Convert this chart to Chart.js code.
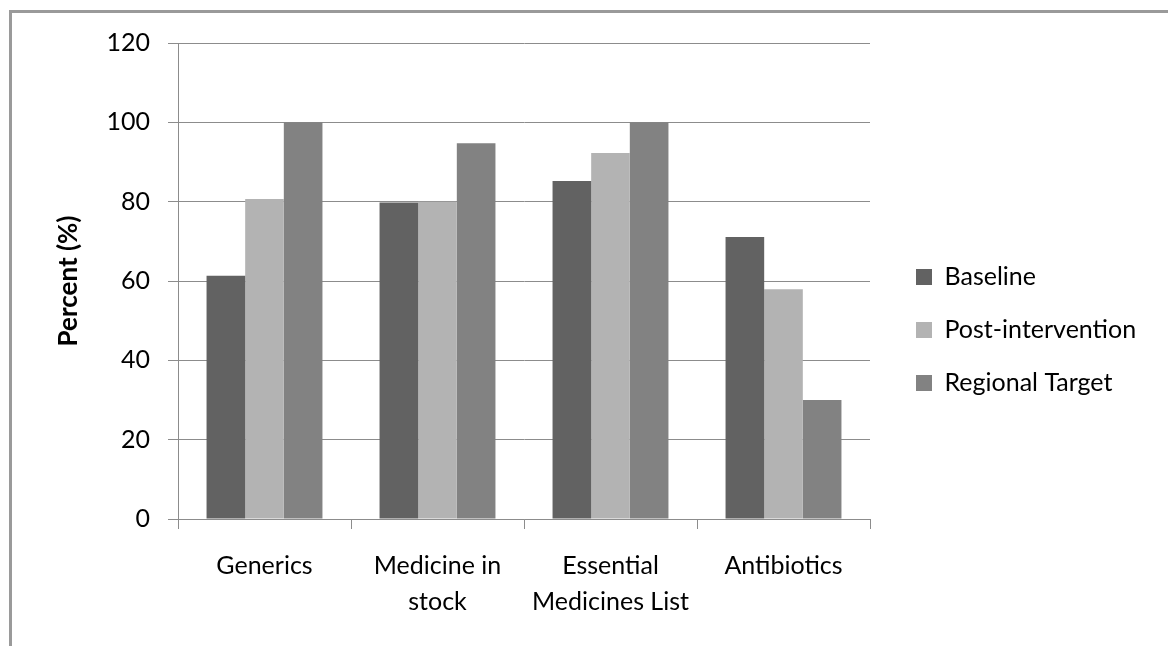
<!DOCTYPE html>
<html>
<head>
<meta charset="utf-8">
<script src="https://cdn.jsdelivr.net/npm/chart.js@4"></script>
<style>
  html, body { margin: 0; padding: 0; background: #fff; }
  #wrap { position: relative; width: 1168px; height: 646px; overflow: hidden; }
  #frame { position: absolute; left: 9px; top: 10px; width: 1200px; height: 700px;
           border-top: 3px solid #9a9a9a; border-left: 3px solid #9a9a9a; }
  #c { position: absolute; left: 0; top: 0; }
</style>
</head>
<body>
<div id="wrap">
  <div id="frame"></div>
  <canvas id="c" width="1168" height="646"></canvas>
</div>
<script>
// Indicator categories (multi-line labels as arrays)
const categories = ['Generics', ['Medicine in', 'stock'], ['Essential', 'Medicines List'], 'Antibiotics'];

// Percent values per series
const baseline = [61.3, 79.8, 85.2, 71.1];
const postIntervention = [80.7, 80.0, 92.3, 57.9];
const regionalTarget = [100, 94.7, 100, 30];

const seriesNames = ['Baseline', 'Post-intervention', 'Regional Target'];
const yTicks = [0, 20, 40, 60, 80, 100, 120];

const FONT = 'Lato, "Open Sans", "DejaVu Sans", sans-serif';
const GRID = '#8c8c8c';
const LEGEND_WIDTH = 270;

// Give the right-hand legend a fixed width so the plot area keeps its size
const fixedLegendWidth = {
  id: 'fixedLegendWidth',
  beforeLayout(chart) {
    const lg = chart.legend;
    if (lg && !lg.__fixedWidth) {
      const fit = lg.fit;
      lg.fit = function () { fit.call(this); this.width = LEGEND_WIDTH; };
      lg.__fixedWidth = true;
    }
  }
};

new Chart(document.getElementById('c'), {
  type: 'bar',
  data: {
    labels: categories,
    datasets: [
      { label: seriesNames[0], data: baseline, backgroundColor: '#626262', borderWidth: 0 },
      { label: seriesNames[1], data: postIntervention, backgroundColor: '#b3b3b3', borderWidth: 0 },
      { label: seriesNames[2], data: regionalTarget, backgroundColor: '#828282', borderWidth: 0 }
    ]
  },
  plugins: [fixedLegendWidth],
  options: {
    responsive: false,
    animation: false,
    devicePixelRatio: 1,
    layout: { padding: { left: 40, top: 43, right: 10, bottom: 29 } },
    datasets: { bar: { categoryPercentage: 0.67, barPercentage: 1.0 } },
    plugins: {
      tooltip: { enabled: false },
      legend: {
        position: 'right',
        align: 'center',
        labels: {
          boxWidth: 16,
          boxHeight: 16,
          padding: 28,
          color: '#000',
          font: { family: FONT, size: 25 }
        }
      }
    },
    scales: {
      x: {
        grid: { display: true, drawOnChartArea: false, drawTicks: true, tickLength: 10, color: GRID, offset: true },
        border: { display: true, color: GRID, width: 1 },
        ticks: { color: '#000', padding: 19, maxRotation: 0, autoSkip: false,
                 font: { family: FONT, size: 25, lineHeight: 1.44 } },
        afterFit: s => { s.height = 98; }
      },
      y: {
        min: 0,
        max: 120,
        afterBuildTicks: s => { s.ticks = yTicks.map(v => ({ value: v })); },
        grid: { color: GRID, lineWidth: 1, tickLength: 10, drawTicks: true },
        border: { display: true, color: GRID, width: 1 },
        ticks: { color: '#000', padding: 18, font: { family: FONT, size: 25 } },
        title: { display: true, text: 'Percent (%)', color: '#000',
                 padding: { top: 13, bottom: 0 },
                 font: { family: FONT, size: 26, weight: 'bold' } },
        afterFit: s => { s.width = 138; }
      },
      gap: {
        position: 'right',
        display: true,
        grid: { display: false },
        border: { display: false },
        ticks: { display: false },
        afterFit: s => { s.width = 18; }
      }
    }
  }
});
</script>
</body>
</html>
